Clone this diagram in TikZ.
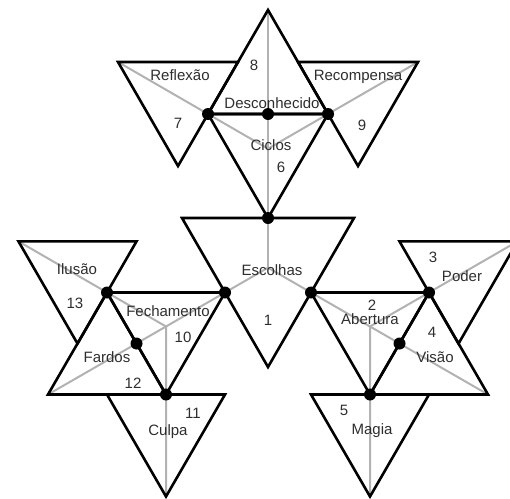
\documentclass[tikz,border=0pt]{standalone}
\usepackage{fontspec}
\setmainfont{Liberation Sans}
\begin{document}
\begin{tikzpicture}[x=1pt,y=-1pt,
  tri/.style={draw=black,line width=2.6pt,line join=miter},
  guide/.style={draw=black!30,line width=2pt},
  dot/.style={circle,fill=black,inner sep=0pt,minimum size=12pt},
  lbl/.style={text=black!82,font=\fontsize{15}{18}\selectfont,inner sep=0pt,text height=10.7pt,text depth=0pt}]
\clip (0,0) rectangle (510,498);
\coordinate (A) at (268,10);
\coordinate (L) at (208,114);
\coordinate (M) at (268,114);
\coordinate (R) at (328,114);
\coordinate (B) at (268,218);
\coordinate (C6) at (268,148.7);
\coordinate (r1) at (118,62); \coordinate (r2) at (238,62); \coordinate (r3) at (178,166);
\coordinate (k1) at (298,62); \coordinate (k2) at (418,62); \coordinate (k3) at (358,166);
\coordinate (e1) at (182,218); \coordinate (e2) at (354,218); \coordinate (e3) at (268,367);
\coordinate (C1) at (268,267.7);
\coordinate (EL) at (225,292.5); \coordinate (ER) at (311,292.5);
\coordinate (P) at (107,292.5); \coordinate (Q) at (166,394.5); \coordinate (C10) at (166,326.5);
\coordinate (F) at (136.5,343.5);
\coordinate (i1) at (18.5,241.4); \coordinate (i2) at (136.5,241.4); \coordinate (i3) at (77.5,343.6);
\coordinate (f1) at (48,394.5);
\coordinate (u1) at (107,394.5); \coordinate (u2) at (225,394.5); \coordinate (u3) at (166,496.5);
\coordinate (Pr) at (429,292.5); \coordinate (Qr) at (370,394.5); \coordinate (C2) at (370,326.5);
\coordinate (V) at (399.5,343.5);
\coordinate (p1) at (399.5,241.4); \coordinate (p2) at (517.5,241.4); \coordinate (p3) at (458.5,343.6);
\coordinate (v2) at (488,394.5);
\coordinate (g1) at (311,394.5); \coordinate (g2) at (429,394.5); \coordinate (g3) at (370,496.5);

\draw[guide] (A) -- (C1);
\draw[guide] (r1) -- (C6) -- (k2);
\draw[guide] (f1) -- (C1) -- (v2);
\draw[guide] (i1) -- (C10) -- (u3);
\draw[guide] (p2) -- (C2) -- (g3);

\foreach \a/\b/\c in {A/L/R, L/R/B, r1/r2/r3, k1/k2/k3, e1/e2/e3, P/EL/Q, i1/i2/i3, P/f1/Q, u1/u2/u3, ER/Pr/Qr, p1/p2/p3, Pr/Qr/v2, g1/g2/g3}
  \draw[tri] (\a) -- (\b) -- (\c) -- cycle;

\foreach \p in {L,M,R,B,EL,ER,P,F,Q,Pr,V,Qr}
  \node[dot] (d\p) at (\p) {};

\node[lbl] (reflexao) at (180,75) {Reflexão};
\node[lbl] (n8) at (254,65) {8};
\node[lbl] (recompensa) at (358,75) {Recompensa};
\node[lbl] (n7) at (178,123) {7};
\node[lbl] (desconhecido) at (272,103) {Desconhecido};
\node[lbl] (n9) at (362,125) {9};
\node[lbl] (ciclos) at (271,145) {Ciclos};
\node[lbl] (n6) at (281,167) {6};
\node[lbl] (escolhas) at (272,270) {Escolhas};
\node[lbl] (n1) at (268,320) {1};
\node[lbl] (ilusao) at (77,269) {Ilusão};
\node[lbl] (n13) at (75,303) {13};
\node[lbl] (fechamento) at (168,311) {Fechamento};
\node[lbl] (n10) at (183,337) {10};
\node[lbl] (fardos) at (107,357) {Fardos};
\node[lbl] (n12) at (133,383) {12};
\node[lbl] (n11) at (193,413) {11};
\node[lbl] (culpa) at (168,430) {Culpa};
\node[lbl] (n3) at (433,257) {3};
\node[lbl] (poder) at (462,276) {Poder};
\node[lbl] (n2) at (372,305) {2};
\node[lbl] (abertura) at (370,319) {Abertura};
\node[lbl] (n4) at (432,332) {4};
\node[lbl] (visao) at (435,357) {Visão};
\node[lbl] (n5) at (344,410) {5};
\node[lbl] (magia) at (372,429) {Magia};
\end{tikzpicture}
\end{document}
